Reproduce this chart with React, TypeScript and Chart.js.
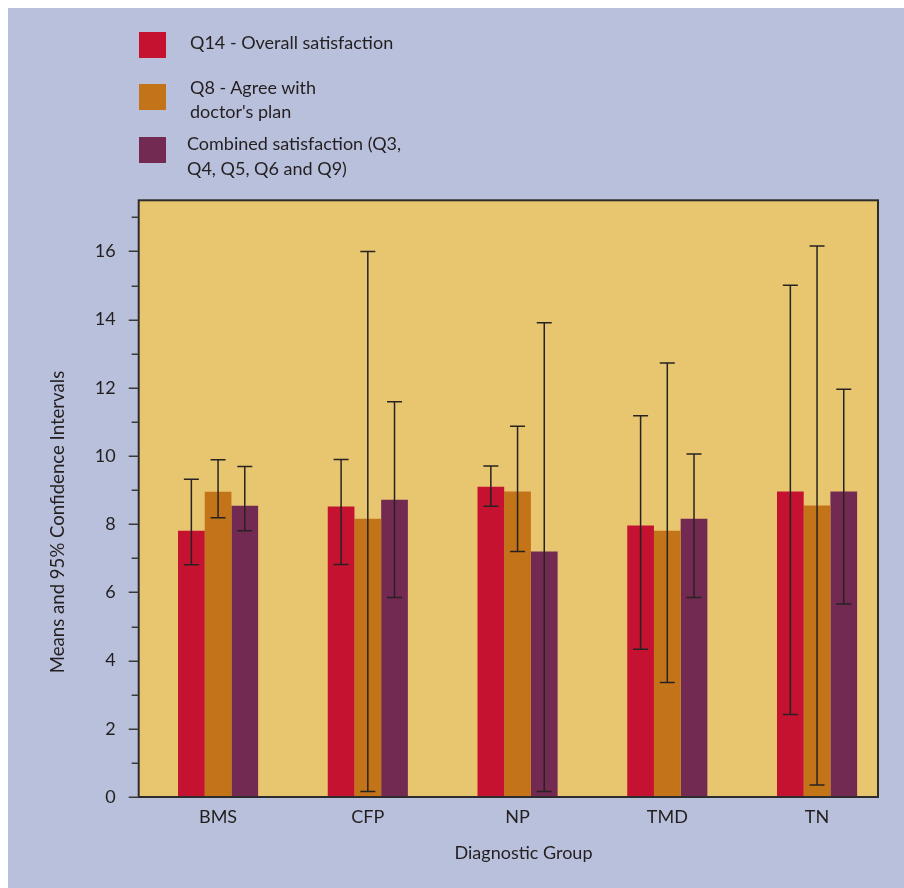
import React, { useEffect, useRef } from "react";
import { Chart, registerables } from "chart.js";

Chart.register(...registerables);

const categories = ["BMS", "CFP", "NP", "TMD", "TN"];
const seriesNames = [
  ["Q14 - Overall satisfaction"],
  ["Q8 - Agree with", "doctor's plan"],
  ["Combined satisfaction (Q3,", "Q4, Q5, Q6 and Q9)"],
];
const seriesColors = ["#c41230", "#c47418", "#722a52"];

const q14Mean = [7.81, 8.52, 9.1, 7.96, 8.96];
const q14Low = [6.81, 6.82, 8.53, 4.33, 2.42];
const q14High = [9.32, 9.9, 9.71, 11.18, 15.01];

const q8Mean = [8.95, 8.16, 8.96, 7.81, 8.55];
const q8Low = [8.19, 0.16, 7.2, 3.36, 0.35];
const q8High = [9.89, 16.0, 10.87, 12.73, 16.16];

const combMean = [8.54, 8.72, 7.2, 8.16, 8.96];
const combLow = [7.81, 5.85, 0.16, 5.85, 5.66];
const combHigh = [9.69, 11.59, 13.91, 10.06, 11.96];

const yTickValues = [0, 2, 4, 6, 8, 10, 12, 14, 16];
const yMinorValues = [1, 3, 5, 7, 9, 11, 13, 15, 17];

const yTitle = "Means and 95% Confidence Intervals";
const xTitle = "Diagnostic Group";

const FONT = "Lato, 'Open Sans', sans-serif";
const TEXT = "#231f20";
const BG = "#b9c0dc";
const PLOT_BG = "#e8c670";

const lows = [q14Low, q8Low, combLow];
const highs = [q14High, q8High, combHigh];
const means = [q14Mean, q8Mean, combMean];

const framePlugin = {
  id: "frame",
  beforeDatasetsDraw(chart: any) {
    const { ctx, chartArea } = chart;
    ctx.save();
    ctx.fillStyle = PLOT_BG;
    ctx.fillRect(chartArea.left, chartArea.top, chartArea.right - chartArea.left, chartArea.bottom - chartArea.top);
    ctx.restore();
  },
  afterDatasetsDraw(chart: any) {
    const { ctx, chartArea, scales } = chart;
    const y = scales.y;
    ctx.save();
    ctx.strokeStyle = "#262322";
    ctx.lineWidth = 1.5;
    chart.data.datasets.forEach((ds: any, di: number) => {
      const meta = chart.getDatasetMeta(di);
      meta.data.forEach((bar: any, i: number) => {
        const x = bar.x;
        const yl = y.getPixelForValue(lows[di][i]);
        const yh = y.getPixelForValue(highs[di][i]);
        ctx.beginPath();
        ctx.moveTo(x, yl);
        ctx.lineTo(x, yh);
        ctx.moveTo(x - 7.5, yl);
        ctx.lineTo(x + 7.5, yl);
        ctx.moveTo(x - 7.5, yh);
        ctx.lineTo(x + 7.5, yh);
        ctx.stroke();
      });
    });
    ctx.restore();
    ctx.save();
    ctx.strokeStyle = "#2e2c2b";
    ctx.lineWidth = 2;
    ctx.strokeRect(chartArea.left, chartArea.top, chartArea.right - chartArea.left, chartArea.bottom - chartArea.top);
    ctx.lineWidth = 1.5;
    ctx.strokeStyle = "#3a3a3a";
    ctx.beginPath();
    yTickValues.forEach((v) => {
      const py = Math.round(y.getPixelForValue(v)) + 0.25;
      ctx.moveTo(chartArea.left - 10, py);
      ctx.lineTo(chartArea.left, py);
    });
    yMinorValues.forEach((v) => {
      const py = Math.round(y.getPixelForValue(v)) + 0.25;
      ctx.moveTo(chartArea.left - 7, py);
      ctx.lineTo(chartArea.left, py);
    });
    ctx.stroke();
    ctx.fillStyle = TEXT;
    ctx.font = `18px ${FONT}`;
    ctx.textAlign = "center";
    ctx.textBaseline = "middle";
    ctx.fillText(xTitle, 515.5, 845);
    ctx.font = `18.6px ${FONT}`;
    ctx.translate(50, 514);
    ctx.rotate(-Math.PI / 2);
    ctx.fillText(yTitle, 0, 0);
    ctx.restore();
  },
};

export default function App() {
  const ref = useRef<HTMLCanvasElement | null>(null);
  useEffect(() => {
    if (!ref.current) return;
    const datasets = means.map((m, di) => ({
      label: seriesNames[di].join(" "),
      data: categories.map((_, i) => ({ x: i, y: m[i] })),
      backgroundColor: seriesColors[di],
      borderWidth: 0,
      categoryPercentage: 0.535,
      barPercentage: 1,
    }));
    const chart = new Chart(ref.current, {
      type: "bar",
      data: { datasets },
      plugins: [framePlugin],
      options: {
        animation: false,
        responsive: false,
        maintainAspectRatio: false,
        layout: { padding: { top: 192.3, right: 26, left: 0, bottom: 0 } },
        plugins: { legend: { display: false }, tooltip: { enabled: false } },
        scales: {
          x: {
            type: "linear",
            offset: false,
            min: -0.53,
            max: 4.407,
            grid: { display: false, drawTicks: false, offset: false },
            border: { display: false },
            afterBuildTicks: (scale: any) => {
              scale.ticks = categories.map((_, i) => ({ value: i }));
            },
            afterFit: (scale: any) => {
              scale.height = 91;
            },
            ticks: {
              autoSkip: false,
              maxRotation: 0,
              padding: 9,
              color: TEXT,
              font: { family: FONT, size: 18 },
              callback: (v: any) => categories[Math.round(Number(v))] ?? "",
            },
          },
          y: {
            min: 0,
            max: 17.5,
            grid: { display: false, drawTicks: false },
            border: { display: false },
            afterBuildTicks: (scale: any) => {
              scale.ticks = yTickValues.map((v) => ({ value: v }));
            },
            afterFit: (scale: any) => {
              scale.width = 130.7;
            },
            ticks: {
              padding: 23,
              color: TEXT,
              font: { family: FONT, size: 18 },
              callback: (v: any) => String(v),
            },
          },
        },
      },
    });
    return () => chart.destroy();
  }, []);

  const legendTops = [23.3, 68.3, 123.3];
  const squareTops = [24, 76, 129];
  return (
    <div style={{ position: "fixed", left: 8, top: 8, width: 896, height: 880, background: BG, fontFamily: FONT }}>
      <canvas ref={ref} width={896} height={880} style={{ position: "absolute", left: 0, top: 0, width: 896, height: 880 }} />
      {seriesNames.map((lines, i) => (
        <React.Fragment key={i}>
          <div style={{ position: "absolute", left: 131, top: squareTops[i], width: 27, height: 26, background: seriesColors[i] }} />
          <div style={{ position: "absolute", left: i === 2 ? 179 : 182, top: legendTops[i], fontSize: 18, lineHeight: i === 2 ? "25px" : "23.5px", color: TEXT, whiteSpace: "nowrap" }}>
            {lines.map((l, j) => (
              <div key={j}>{l}</div>
            ))}
          </div>
        </React.Fragment>
      ))}
    </div>
  );
}
